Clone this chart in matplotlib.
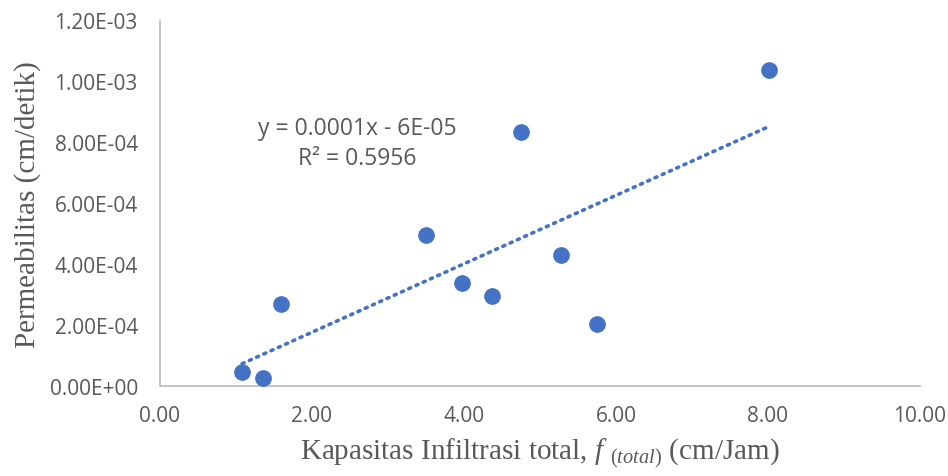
import matplotlib
matplotlib.use("Agg")
import matplotlib.pyplot as plt
import numpy as np
from matplotlib.ticker import FuncFormatter

plt.rcParams["mathtext.fontset"] = "custom"
plt.rcParams["mathtext.it"] = "Liberation Serif:italic"
plt.rcParams["mathtext.rm"] = "Liberation Serif"

infiltrasi = [1.08, 1.36, 1.59, 3.50, 3.97, 4.37, 4.75, 5.28, 5.75, 8.01]
permeabilitas = [4.6e-5, 2.6e-5, 2.68e-4, 4.97e-4, 3.37e-4, 2.94e-4, 8.33e-4, 4.31e-4, 2.03e-4, 1.039e-3]
x_ticks = [0, 2, 4, 6, 8, 10]
y_ticks = [0, 2e-4, 4e-4, 6e-4, 8e-4, 1e-3, 1.2e-3]
eq_text = "y = 0.0001x - 6E-05"
r2_text = "R² = 0.5956"

blue = "#4472C4"
gray = "#595959"

fig = plt.figure(figsize=(9.48, 4.77), dpi=100)
ax = fig.add_axes([160/948, 1-387/477, 760/948, (387-21.5)/477])

x = np.array(infiltrasi)
y = np.array(permeabilitas)
m, b = np.polyfit(x, y, 1)
xl = np.array([x.min(), x.max()])
ax.plot(xl, m*xl + b, linestyle=(0, (0.6, 1.6)), dash_capstyle="round", color=blue, lw=2.6, zorder=2)
ax.plot(x, y, "o", color=blue, ms=11, zorder=3, clip_on=False)

ax.set_xlim(0, 10)
ax.set_ylim(0, 1.2e-3)
ax.set_xticks(x_ticks)
ax.set_yticks(y_ticks)
ax.xaxis.set_major_formatter(FuncFormatter(lambda v, p: f"{v:.2f}"))
ax.yaxis.set_major_formatter(FuncFormatter(lambda v, p: f"{v:.2E}"))
ax.tick_params(length=0, labelsize=15, colors=gray)
ax.tick_params(axis="y", pad=16)
ax.tick_params(axis="x", pad=14)
for lab in ax.get_xticklabels() + ax.get_yticklabels():
    lab.set_family("Open Sans")

for s in ["top", "right"]:
    ax.spines[s].set_visible(False)
for s in ["left", "bottom"]:
    ax.spines[s].set_color("#BFBFBF")
    ax.spines[s].set_linewidth(1.3)

ax.set_ylabel("Permeabilitas (cm/detik)", family="Liberation Serif", fontsize=21, color=gray, labelpad=6)
ax.set_xlabel(r"Kapasitas Infiltrasi total, $\mathit{f}$ $_{\mathit{(total)}}$ (cm/Jam)",
              family="Liberation Serif", fontsize=21, color=gray, labelpad=7)

eq_x = (357 - 160) / 76
ax.text(eq_x, 0.847e-3, eq_text, ha="center", va="center",
        fontsize=16.5, color=gray, family="Open Sans")
ax.text(eq_x, 0.75e-3, r2_text, ha="center", va="center",
        fontsize=16.5, color=gray, family="Open Sans")

fig.savefig("out.png", dpi=100)
